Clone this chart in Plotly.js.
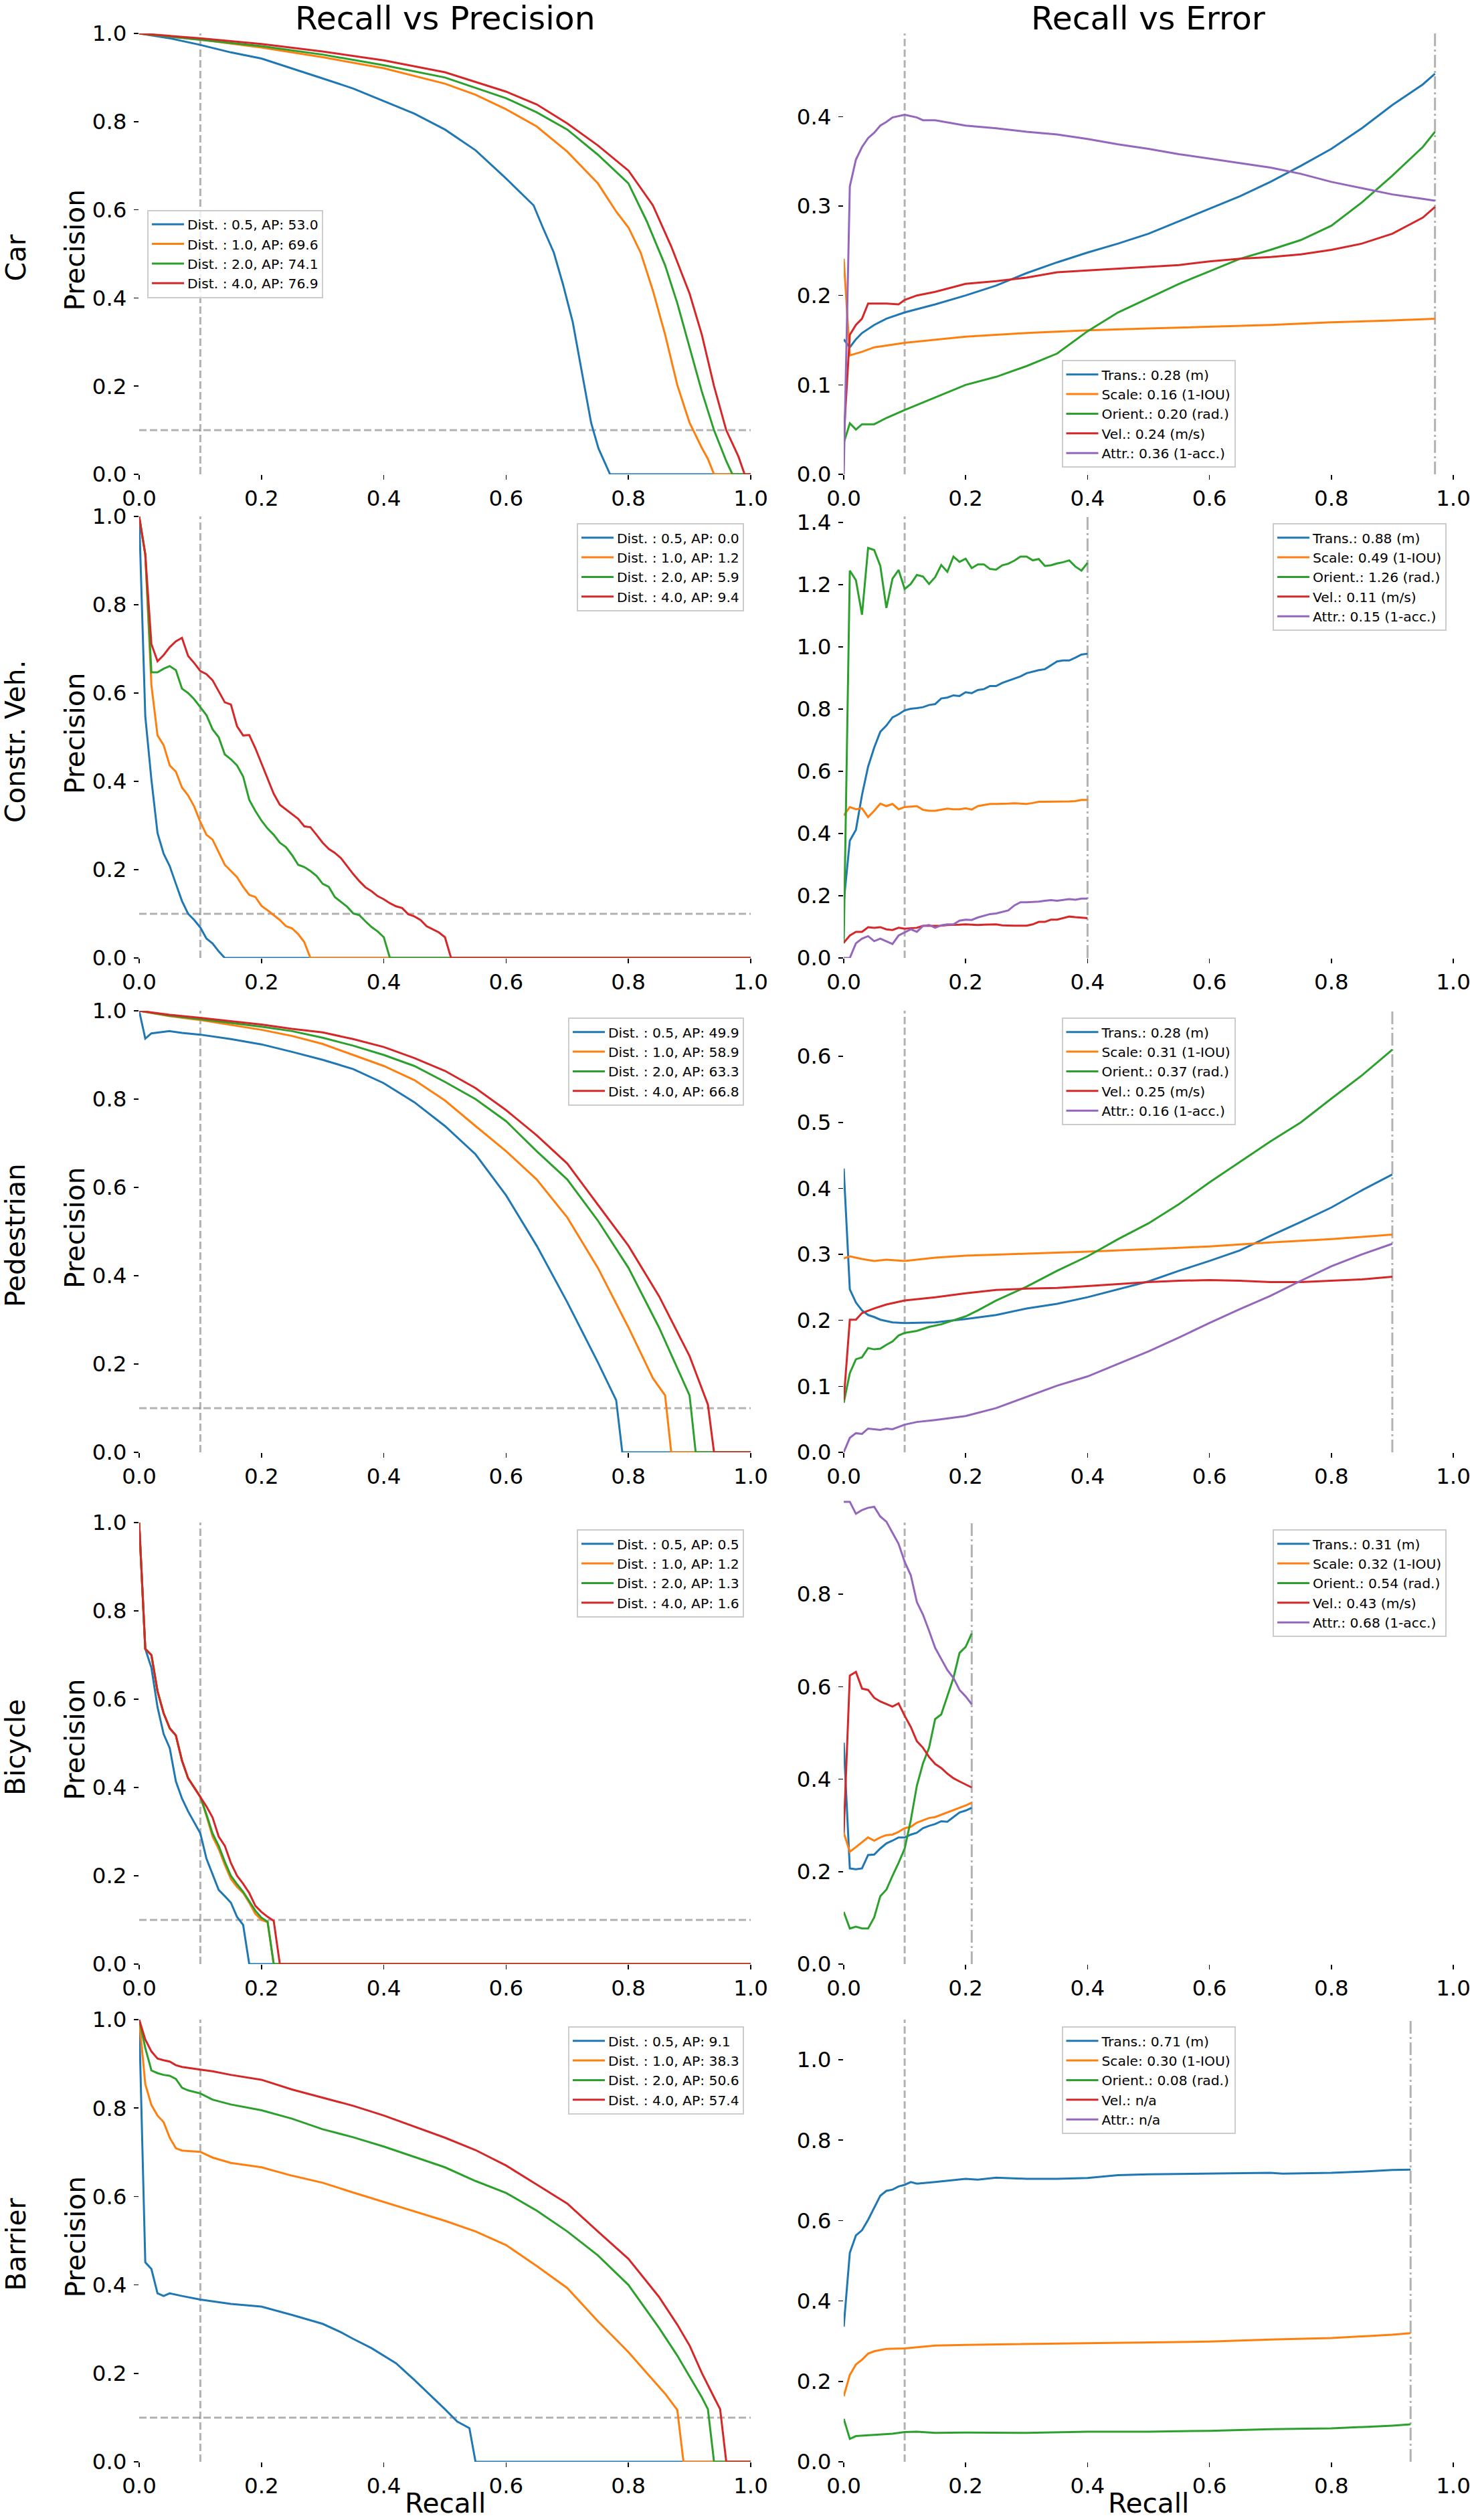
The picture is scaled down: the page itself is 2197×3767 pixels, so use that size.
<!DOCTYPE html>
<html>
<head>
<meta charset="utf-8">
<script src="https://cdn.plot.ly/plotly-3.0.1.min.js"></script>
<style>
  html, body { margin: 0; padding: 0; background: #ffffff; }
  #chart { width: 2197px; height: 3767px; }
</style>
</head>
<body>
<div id="chart"></div>
<script>
// ---------------------------------------------------------------------------
// Detection evaluation summary: precision/recall and TP-error/recall curves
// for five classes, four matching distances each.
// ---------------------------------------------------------------------------

const classNames = ['Car', 'Constr. Veh.', 'Pedestrian', 'Bicycle', 'Barrier'];
const distances = [0.5, 1.0, 2.0, 4.0];

// Average precision per class, one value per matching distance
const carAP = [53.0, 69.6, 74.1, 76.9];
const cvAP  = [0.0, 1.2, 5.9, 9.4];
const pedAP = [49.9, 58.9, 63.3, 66.8];
const bicAP = [0.5, 1.2, 1.3, 1.6];
const barAP = [9.1, 38.3, 50.6, 57.4];

// Mean TP errors per class: trans, scale, orient, vel, attr (null = n/a)
const carTP = [0.28, 0.16, 0.20, 0.24, 0.36];
const cvTP  = [0.88, 0.49, 1.26, 0.11, 0.15];
const pedTP = [0.28, 0.31, 0.37, 0.25, 0.16];
const bicTP = [0.31, 0.32, 0.54, 0.43, 0.68];
const barTP = [0.71, 0.30, 0.08, null, null];

const tpNames = ['Trans.', 'Scale', 'Orient.', 'Vel.', 'Attr.'];
const tpUnits = ['(m)', '(1-IOU)', '(rad.)', '(m/s)', '(1-acc.)'];

// ----------------------------- Car -----------------------------------------
const car_d05_r = [0,0.05,0.1,0.15,0.2,0.25,0.3,0.35,0.4,0.45,0.5,0.55,0.6,0.645,0.66,0.678,0.693,0.709,0.724,0.739,0.751,0.77,1.0];
const car_d05_p = [1,0.989,0.974,0.957,0.943,0.921,0.898,0.875,0.846,0.818,0.782,0.735,0.671,0.61,0.56,0.503,0.431,0.345,0.231,0.117,0.059,0,0];
const car_d10_r = [0,0.1,0.2,0.3,0.4,0.5,0.55,0.6,0.65,0.7,0.75,0.78,0.8,0.82,0.84,0.86,0.88,0.9,0.92,0.93,0.94,1.0];
const car_d10_p = [1,0.986,0.968,0.946,0.921,0.886,0.861,0.828,0.789,0.732,0.66,0.596,0.56,0.503,0.417,0.317,0.202,0.117,0.06,0.035,0,0];
const car_d20_r = [0,0.1,0.2,0.3,0.4,0.5,0.6,0.65,0.7,0.75,0.8,0.83,0.86,0.88,0.9,0.92,0.94,0.96,0.97,1.0];
const car_d20_p = [1,0.986,0.971,0.952,0.928,0.9,0.853,0.821,0.782,0.725,0.66,0.574,0.474,0.388,0.288,0.188,0.1,0.03,0,0];
const car_d40_r = [0,0.1,0.2,0.3,0.4,0.5,0.6,0.65,0.7,0.75,0.8,0.84,0.87,0.9,0.92,0.94,0.96,0.98,0.99,1.0];
const car_d40_p = [1,0.989,0.976,0.959,0.939,0.912,0.868,0.839,0.796,0.746,0.689,0.61,0.517,0.41,0.317,0.2,0.1,0.04,0,0];

const car_trans_r = [0,0.01,0.02,0.03,0.05,0.07,0.1,0.15,0.2,0.25,0.3,0.35,0.4,0.45,0.5,0.55,0.6,0.65,0.7,0.75,0.8,0.85,0.9,0.95,0.97];
const car_trans_e = [0.151,0.142,0.151,0.158,0.167,0.174,0.181,0.19,0.2,0.211,0.225,0.237,0.248,0.258,0.269,0.283,0.297,0.311,0.327,0.345,0.364,0.387,0.413,0.436,0.448];
const car_scale_r = [0,0.01,0.03,0.05,0.1,0.2,0.3,0.4,0.5,0.6,0.7,0.8,0.9,0.97];
const car_scale_e = [0.241,0.133,0.137,0.142,0.147,0.154,0.158,0.161,0.163,0.165,0.167,0.17,0.172,0.174];
const car_orient_r = [0,0.01,0.02,0.03,0.05,0.07,0.1,0.15,0.2,0.25,0.3,0.35,0.4,0.45,0.5,0.55,0.6,0.65,0.7,0.75,0.8,0.85,0.9,0.95,0.97];
const car_orient_e = [0.035,0.057,0.05,0.056,0.056,0.063,0.072,0.086,0.1,0.109,0.121,0.135,0.16,0.181,0.197,0.213,0.227,0.241,0.251,0.262,0.278,0.304,0.334,0.366,0.383];
const car_vel_r = [0,0.01,0.02,0.03,0.04,0.07,0.09,0.1,0.12,0.15,0.2,0.25,0.3,0.35,0.4,0.45,0.5,0.55,0.6,0.65,0.7,0.75,0.8,0.85,0.9,0.95,0.97];
const car_vel_e = [0.04,0.156,0.167,0.174,0.191,0.191,0.19,0.195,0.2,0.204,0.213,0.216,0.22,0.226,0.228,0.23,0.232,0.234,0.238,0.241,0.243,0.246,0.251,0.258,0.269,0.287,0.299];
const car_attr_r = [0,0.01,0.02,0.03,0.04,0.05,0.06,0.07,0.08,0.1,0.12,0.13,0.15,0.2,0.25,0.3,0.35,0.4,0.45,0.5,0.55,0.6,0.65,0.7,0.75,0.8,0.85,0.9,0.95,0.97];
const car_attr_e = [0,0.322,0.352,0.366,0.376,0.382,0.39,0.394,0.399,0.402,0.399,0.396,0.396,0.39,0.387,0.383,0.38,0.375,0.369,0.364,0.358,0.353,0.348,0.343,0.336,0.327,0.32,0.313,0.308,0.306];

// ----------------------------- Construction vehicle ------------------------
const cv_d05_r = [0,0.01,0.02,0.03,0.04,0.05,0.06,0.07,0.08,0.09,0.1,0.11,0.12,0.13,0.14,1.0];
const cv_d05_p = [1,0.547,0.404,0.283,0.236,0.208,0.168,0.129,0.1,0.086,0.069,0.044,0.033,0.015,0,0];
const cv_d10_r = [0,0.01,0.02,0.03,0.04,0.05,0.06,0.07,0.08,0.09,0.1,0.11,0.12,0.13,0.14,0.15,0.16,0.17,0.18,0.19,0.2,0.21,0.22,0.23,0.24,0.25,0.26,0.27,0.28,1.0];
const cv_d10_p = [1,0.914,0.618,0.504,0.482,0.436,0.422,0.386,0.368,0.343,0.308,0.279,0.268,0.24,0.211,0.197,0.183,0.161,0.143,0.138,0.118,0.108,0.097,0.086,0.072,0.067,0.054,0.036,0,0];
const cv_d20_r = [0,0.01,0.02,0.03,0.04,0.05,0.06,0.07,0.08,0.09,0.1,0.11,0.12,0.13,0.14,0.15,0.16,0.17,0.18,0.19,0.2,0.21,0.22,0.23,0.24,0.25,0.26,0.27,0.28,0.29,0.3,0.31,0.32,0.33,0.34,0.35,0.36,0.37,0.38,0.39,0.4,0.41,1.0];
const cv_d20_p = [1,0.914,0.647,0.647,0.655,0.661,0.652,0.61,0.6,0.586,0.568,0.55,0.518,0.5,0.461,0.45,0.436,0.411,0.358,0.333,0.311,0.293,0.279,0.261,0.251,0.233,0.211,0.206,0.197,0.186,0.168,0.161,0.138,0.127,0.116,0.101,0.097,0.083,0.07,0.06,0.047,0,0];
const cv_d40_r = [0,0.01,0.02,0.03,0.04,0.05,0.06,0.07,0.08,0.09,0.1,0.11,0.12,0.13,0.14,0.15,0.16,0.17,0.18,0.19,0.2,0.21,0.22,0.23,0.24,0.25,0.26,0.27,0.28,0.29,0.3,0.31,0.32,0.33,0.34,0.35,0.36,0.37,0.38,0.39,0.4,0.41,0.42,0.43,0.44,0.45,0.46,0.47,0.48,0.49,0.5,0.51,1.0];
const cv_d40_p = [1,0.914,0.711,0.672,0.686,0.704,0.717,0.725,0.684,0.668,0.65,0.643,0.629,0.604,0.579,0.574,0.525,0.504,0.505,0.475,0.44,0.404,0.372,0.347,0.336,0.325,0.315,0.298,0.296,0.279,0.261,0.247,0.238,0.226,0.208,0.19,0.174,0.16,0.151,0.14,0.133,0.124,0.117,0.113,0.099,0.094,0.086,0.072,0.065,0.058,0.047,0,0];

const cv_err_r = [0,0.01,0.02,0.03,0.04,0.05,0.06,0.07,0.08,0.09,0.1,0.11,0.12,0.13,0.14,0.15,0.16,0.17,0.18,0.19,0.2,0.21,0.22,0.23,0.24,0.25,0.26,0.27,0.28,0.29,0.3,0.31,0.32,0.33,0.34,0.35,0.36,0.37,0.38,0.39,0.4];
const cv_trans_e = [0.179,0.377,0.412,0.524,0.615,0.676,0.727,0.747,0.773,0.783,0.796,0.801,0.803,0.806,0.813,0.816,0.834,0.837,0.844,0.842,0.854,0.851,0.861,0.864,0.874,0.874,0.884,0.891,0.897,0.905,0.915,0.92,0.925,0.928,0.94,0.953,0.956,0.956,0.965,0.975,0.978];
const cv_scale_e = [0.458,0.485,0.478,0.481,0.453,0.473,0.496,0.488,0.495,0.478,0.485,0.486,0.488,0.476,0.473,0.473,0.476,0.48,0.478,0.478,0.481,0.477,0.488,0.491,0.495,0.495,0.495,0.496,0.497,0.496,0.495,0.498,0.502,0.502,0.502,0.502,0.502,0.503,0.504,0.508,0.508];
const cv_orient_e = [0.047,1.245,1.214,1.103,1.318,1.311,1.26,1.125,1.219,1.247,1.186,1.202,1.231,1.226,1.202,1.224,1.263,1.241,1.29,1.273,1.283,1.253,1.265,1.265,1.25,1.248,1.262,1.267,1.277,1.29,1.29,1.278,1.282,1.26,1.262,1.268,1.272,1.278,1.258,1.245,1.27];
const cv_vel_e = [0.049,0.072,0.084,0.084,0.099,0.097,0.099,0.092,0.09,0.097,0.094,0.095,0.097,0.103,0.103,0.103,0.104,0.106,0.106,0.107,0.108,0.107,0.106,0.107,0.108,0.108,0.105,0.104,0.104,0.104,0.104,0.108,0.116,0.116,0.123,0.123,0.128,0.133,0.131,0.13,0.128];
const cv_attr_e = [0,0,0.047,0.062,0.07,0.054,0.062,0.054,0.045,0.072,0.082,0.092,0.084,0.103,0.106,0.097,0.105,0.108,0.108,0.12,0.123,0.122,0.13,0.136,0.141,0.143,0.148,0.153,0.169,0.179,0.179,0.18,0.181,0.184,0.186,0.184,0.187,0.189,0.187,0.191,0.191];

// ----------------------------- Pedestrian ----------------------------------
const ped_d05_r = [0,0.01,0.02,0.03,0.05,0.07,0.1,0.15,0.2,0.25,0.3,0.35,0.4,0.45,0.5,0.55,0.6,0.65,0.7,0.75,0.78,0.79,1.0];
const ped_d05_p = [1,0.937,0.949,0.951,0.954,0.95,0.946,0.936,0.924,0.907,0.889,0.868,0.836,0.793,0.739,0.675,0.582,0.468,0.34,0.204,0.118,0,0];
const ped_d10_r = [0,0.05,0.1,0.15,0.2,0.25,0.3,0.35,0.4,0.45,0.5,0.55,0.6,0.65,0.7,0.75,0.8,0.84,0.86,0.87,1.0];
const ped_d10_p = [1,0.988,0.979,0.968,0.957,0.943,0.925,0.9,0.875,0.843,0.797,0.739,0.682,0.618,0.532,0.418,0.283,0.168,0.129,0,0];
const ped_d20_r = [0,0.05,0.1,0.15,0.2,0.25,0.3,0.35,0.4,0.45,0.5,0.55,0.6,0.65,0.7,0.75,0.8,0.85,0.9,0.91,1.0];
const ped_d20_p = [1,0.989,0.981,0.973,0.964,0.954,0.939,0.921,0.9,0.875,0.839,0.8,0.75,0.682,0.618,0.525,0.418,0.283,0.129,0,0];
const ped_d40_r = [0,0.05,0.1,0.15,0.2,0.25,0.3,0.35,0.4,0.45,0.5,0.55,0.6,0.65,0.7,0.75,0.8,0.85,0.9,0.93,0.94,1.0];
const ped_d40_p = [1,0.991,0.984,0.977,0.969,0.959,0.951,0.936,0.918,0.893,0.864,0.825,0.775,0.718,0.654,0.561,0.468,0.354,0.218,0.108,0,0];

const ped_trans_r = [0,0.01,0.02,0.03,0.04,0.05,0.06,0.07,0.08,0.1,0.15,0.2,0.25,0.3,0.35,0.4,0.45,0.5,0.55,0.6,0.65,0.7,0.75,0.8,0.85,0.9];
const ped_trans_e = [0.43,0.247,0.227,0.215,0.208,0.205,0.201,0.199,0.197,0.196,0.197,0.202,0.208,0.218,0.225,0.235,0.247,0.259,0.275,0.29,0.306,0.328,0.349,0.371,0.397,0.421];
const ped_scale_r = [0,0.01,0.03,0.05,0.07,0.1,0.15,0.2,0.3,0.4,0.5,0.6,0.7,0.8,0.9];
const ped_scale_e = [0.294,0.297,0.293,0.29,0.292,0.29,0.295,0.298,0.301,0.304,0.308,0.312,0.318,0.323,0.33];
const ped_orient_r = [0,0.01,0.02,0.03,0.04,0.05,0.06,0.07,0.08,0.09,0.1,0.12,0.14,0.16,0.18,0.2,0.22,0.25,0.3,0.35,0.4,0.45,0.5,0.55,0.6,0.65,0.7,0.75,0.8,0.85,0.9];
const ped_orient_e = [0.075,0.12,0.141,0.144,0.158,0.156,0.157,0.163,0.168,0.177,0.181,0.184,0.19,0.194,0.2,0.206,0.215,0.23,0.251,0.275,0.297,0.323,0.347,0.376,0.409,0.44,0.471,0.5,0.536,0.571,0.61];
const ped_vel_r = [0,0.01,0.02,0.03,0.05,0.07,0.1,0.15,0.2,0.25,0.3,0.35,0.4,0.45,0.5,0.55,0.6,0.65,0.7,0.75,0.8,0.85,0.9];
const ped_vel_e = [0.079,0.201,0.201,0.211,0.218,0.224,0.23,0.235,0.241,0.246,0.248,0.249,0.252,0.255,0.258,0.26,0.261,0.26,0.258,0.258,0.26,0.262,0.266];
const ped_attr_r = [0,0.01,0.02,0.03,0.04,0.05,0.06,0.07,0.08,0.1,0.12,0.15,0.2,0.25,0.3,0.35,0.4,0.45,0.5,0.55,0.6,0.65,0.7,0.75,0.8,0.85,0.9];
const ped_attr_e = [0,0.022,0.029,0.028,0.036,0.035,0.034,0.036,0.035,0.042,0.046,0.049,0.055,0.067,0.084,0.101,0.115,0.134,0.153,0.174,0.196,0.217,0.237,0.26,0.282,0.3,0.316];

// ----------------------------- Bicycle -------------------------------------
const bic_d05_r = [0,0.01,0.02,0.03,0.04,0.05,0.06,0.07,0.08,0.09,0.1,0.11,0.12,0.13,0.14,0.15,0.16,0.17,0.18,1.0];
const bic_d05_p = [1,0.714,0.671,0.582,0.521,0.489,0.414,0.375,0.346,0.321,0.296,0.239,0.204,0.168,0.154,0.139,0.107,0.089,0,0];
const bic_d10_r = [0,0.01,0.02,0.03,0.04,0.05,0.06,0.07,0.08,0.09,0.1,0.11,0.12,0.13,0.14,0.15,0.16,0.17,0.18,0.19,0.2,0.21,0.22,1.0];
const bic_d10_p = [1,0.714,0.7,0.618,0.568,0.534,0.518,0.461,0.421,0.4,0.379,0.336,0.289,0.261,0.225,0.193,0.175,0.161,0.139,0.114,0.1,0.095,0,0];
const bic_d20_r = [0,0.01,0.02,0.03,0.04,0.05,0.06,0.07,0.08,0.09,0.1,0.11,0.12,0.13,0.14,0.15,0.16,0.17,0.18,0.19,0.2,0.21,0.22,1.0];
const bic_d20_p = [1,0.714,0.7,0.618,0.568,0.534,0.518,0.461,0.421,0.4,0.379,0.339,0.296,0.268,0.232,0.2,0.181,0.164,0.143,0.121,0.105,0.096,0,0];
const bic_d40_r = [0,0.01,0.02,0.03,0.04,0.05,0.06,0.07,0.08,0.09,0.1,0.11,0.12,0.13,0.14,0.15,0.16,0.17,0.18,0.19,0.2,0.21,0.22,0.23,1.0];
const bic_d40_p = [1,0.714,0.7,0.618,0.568,0.534,0.518,0.461,0.421,0.4,0.379,0.357,0.332,0.289,0.268,0.229,0.2,0.182,0.161,0.132,0.118,0.107,0.098,0,0];

const bic_err_r = [0,0.01,0.02,0.03,0.04,0.05,0.06,0.07,0.08,0.09,0.1,0.11,0.12,0.13,0.14,0.15,0.16,0.17,0.18,0.19,0.2,0.21];
const bic_trans_e = [0.479,0.207,0.205,0.207,0.236,0.237,0.25,0.261,0.267,0.274,0.274,0.28,0.284,0.294,0.299,0.303,0.309,0.308,0.318,0.328,0.332,0.338];
const bic_scale_e = [0.284,0.243,0.253,0.263,0.274,0.267,0.274,0.279,0.28,0.286,0.294,0.297,0.306,0.311,0.316,0.318,0.323,0.328,0.332,0.338,0.343,0.349];
const bic_orient_e = [0.113,0.077,0.081,0.077,0.077,0.101,0.147,0.161,0.191,0.219,0.25,0.311,0.386,0.434,0.468,0.53,0.54,0.578,0.619,0.673,0.686,0.715];
const bic_vel_e = [0.284,0.624,0.632,0.596,0.593,0.576,0.568,0.562,0.557,0.564,0.537,0.513,0.482,0.468,0.448,0.433,0.424,0.412,0.402,0.395,0.389,0.382];
const bic_attr_e = [1.0,1.0,0.974,0.982,0.987,0.989,0.968,0.957,0.933,0.909,0.87,0.841,0.783,0.756,0.721,0.684,0.66,0.636,0.619,0.593,0.579,0.562];

// ----------------------------- Barrier -------------------------------------
const bar_d05_r = [0,0.01,0.02,0.03,0.04,0.05,0.07,0.1,0.15,0.2,0.25,0.3,0.33,0.35,0.38,0.4,0.42,0.45,0.48,0.5,0.52,0.54,0.55,1.0];
const bar_d05_p = [1,0.451,0.436,0.381,0.375,0.381,0.375,0.367,0.357,0.351,0.332,0.312,0.293,0.278,0.257,0.24,0.223,0.185,0.146,0.119,0.091,0.076,0,0];
const bar_d10_r = [0,0.01,0.02,0.03,0.04,0.05,0.06,0.07,0.1,0.12,0.15,0.2,0.25,0.3,0.35,0.4,0.45,0.5,0.55,0.6,0.65,0.7,0.75,0.8,0.83,0.86,0.88,0.89,1.0];
const bar_d10_p = [1,0.854,0.807,0.783,0.768,0.733,0.709,0.704,0.701,0.688,0.676,0.666,0.647,0.631,0.609,0.588,0.567,0.545,0.521,0.49,0.443,0.393,0.318,0.248,0.201,0.154,0.117,0,0];
const bar_d20_r = [0,0.01,0.02,0.03,0.04,0.05,0.06,0.07,0.08,0.1,0.12,0.15,0.2,0.25,0.3,0.35,0.4,0.45,0.5,0.55,0.6,0.65,0.7,0.75,0.8,0.85,0.88,0.9,0.92,0.93,0.94,1.0];
const bar_d20_p = [1,0.936,0.885,0.879,0.875,0.873,0.866,0.846,0.84,0.833,0.819,0.808,0.795,0.776,0.752,0.734,0.713,0.69,0.666,0.635,0.608,0.568,0.521,0.467,0.4,0.303,0.24,0.193,0.146,0.119,0,0];
const bar_d40_r = [0,0.01,0.02,0.03,0.04,0.05,0.06,0.07,0.1,0.12,0.15,0.2,0.25,0.3,0.35,0.4,0.45,0.5,0.55,0.6,0.65,0.7,0.75,0.8,0.85,0.88,0.9,0.92,0.94,0.95,0.96,1.0];
const bar_d40_p = [1,0.955,0.928,0.912,0.908,0.905,0.897,0.893,0.887,0.883,0.875,0.864,0.842,0.823,0.805,0.783,0.758,0.733,0.705,0.67,0.627,0.584,0.521,0.459,0.373,0.31,0.263,0.201,0.146,0.119,0,0];

const bar_trans_r = [0,0.01,0.02,0.03,0.04,0.05,0.06,0.07,0.08,0.09,0.1,0.11,0.12,0.15,0.2,0.22,0.25,0.3,0.35,0.4,0.45,0.5,0.6,0.7,0.72,0.8,0.85,0.9,0.93];
const bar_trans_e = [0.336,0.52,0.563,0.576,0.602,0.632,0.662,0.674,0.677,0.685,0.689,0.696,0.692,0.696,0.704,0.702,0.707,0.704,0.704,0.706,0.713,0.715,0.717,0.719,0.717,0.719,0.722,0.726,0.727];
const bar_scale_r = [0,0.01,0.02,0.03,0.04,0.05,0.06,0.07,0.1,0.15,0.2,0.3,0.4,0.5,0.6,0.7,0.8,0.9,0.93];
const bar_scale_e = [0.163,0.216,0.242,0.254,0.269,0.275,0.278,0.281,0.282,0.289,0.291,0.293,0.295,0.296,0.299,0.304,0.308,0.316,0.32];
const bar_orient_r = [0,0.01,0.02,0.04,0.06,0.08,0.1,0.12,0.15,0.2,0.3,0.4,0.5,0.6,0.7,0.8,0.9,0.93];
const bar_orient_e = [0.107,0.057,0.064,0.066,0.068,0.07,0.074,0.075,0.072,0.073,0.072,0.075,0.075,0.077,0.081,0.083,0.09,0.093];
const bar_vel_r = [];
const bar_vel_e = [];
const bar_attr_r = [];
const bar_attr_e = [];

// Upper limit and tick step of each error axis
const errorAxisTop = [0.493, 1.419, 0.669, 0.955, 1.1];
const errorAxisStep = [0.1, 0.2, 0.1, 0.2, 0.2];

// Operating thresholds shown as reference lines
const minRecall = 0.1;
const minPrecision = 0.1;

// ---------------------------------------------------------------------------
// Assemble per-class tables for the plotting loop
// ---------------------------------------------------------------------------
const rows = [
  { name: classNames[0], ap: carAP, tp: carTP,
    pr: [[car_d05_r, car_d05_p], [car_d10_r, car_d10_p], [car_d20_r, car_d20_p], [car_d40_r, car_d40_p]],
    err: [[car_trans_r, car_trans_e], [car_scale_r, car_scale_e], [car_orient_r, car_orient_e], [car_vel_r, car_vel_e], [car_attr_r, car_attr_e]] },
  { name: classNames[1], ap: cvAP, tp: cvTP,
    pr: [[cv_d05_r, cv_d05_p], [cv_d10_r, cv_d10_p], [cv_d20_r, cv_d20_p], [cv_d40_r, cv_d40_p]],
    err: [[cv_err_r, cv_trans_e], [cv_err_r, cv_scale_e], [cv_err_r, cv_orient_e], [cv_err_r, cv_vel_e], [cv_err_r, cv_attr_e]] },
  { name: classNames[2], ap: pedAP, tp: pedTP,
    pr: [[ped_d05_r, ped_d05_p], [ped_d10_r, ped_d10_p], [ped_d20_r, ped_d20_p], [ped_d40_r, ped_d40_p]],
    err: [[ped_trans_r, ped_trans_e], [ped_scale_r, ped_scale_e], [ped_orient_r, ped_orient_e], [ped_vel_r, ped_vel_e], [ped_attr_r, ped_attr_e]] },
  { name: classNames[3], ap: bicAP, tp: bicTP,
    pr: [[bic_d05_r, bic_d05_p], [bic_d10_r, bic_d10_p], [bic_d20_r, bic_d20_p], [bic_d40_r, bic_d40_p]],
    err: [[bic_err_r, bic_trans_e], [bic_err_r, bic_scale_e], [bic_err_r, bic_orient_e], [bic_err_r, bic_vel_e], [bic_err_r, bic_attr_e]] },
  { name: classNames[4], ap: barAP, tp: barTP,
    pr: [[bar_d05_r, bar_d05_p], [bar_d10_r, bar_d10_p], [bar_d20_r, bar_d20_p], [bar_d40_r, bar_d40_p]],
    err: [[bar_trans_r, bar_trans_e], [bar_scale_r, bar_scale_e], [bar_orient_r, bar_orient_e], [bar_vel_r, bar_vel_e], [bar_attr_r, bar_attr_e]] }
];

// ---------------------------------------------------------------------------
// Page geometry (pixels)
// ---------------------------------------------------------------------------
const W = 2197, H = 3767;
const leftCol = [208, 1122];
const rightCol = [1261, 2172];
const rowBox = [[50, 709], [772, 1432], [1511, 2171], [2276, 2936], [3019, 3680]]; // [top, bottom]
const legendInset = 10;

const FONT = 'DejaVu Sans, Verdana, sans-serif';
const COLORS = ['#1f77b4', '#ff7f0e', '#2ca02c', '#d62728', '#9467bd'];
const GUIDE = 'rgba(0,0,0,0.3)';

const px = v => v / W;
const py = v => 1 - v / H;
const sfx = n => (n === 1 ? '' : String(n));

function axisStyle(extra) {
  return Object.assign({
    showgrid: false, zeroline: false, showline: false,
    ticks: 'outside', ticklen: 7, tickwidth: 1.6, tickcolor: '#000000',
    tickfont: { family: FONT, size: 32.5, color: '#000000' },
    ticklabelstandoff: 4, ticklabeloverflow: 'allow',
    tickformat: '.1f', tick0: 0, fixedrange: true, automargin: false
  }, extra);
}

function legendStyle(extra) {
  return Object.assign({
    bgcolor: 'rgba(255,255,255,0.8)', bordercolor: '#cccccc', borderwidth: 2,
    font: { family: FONT, size: 20.3, color: '#000000' },
    tracegroupgap: 2, traceorder: 'normal', itemwidth: 48,
    xref: 'paper', yref: 'paper'
  }, extra);
}

const traces = [];
const layout = {
  width: W, height: H,
  margin: { l: 0, r: 0, t: 0, b: 0, pad: 0 },
  paper_bgcolor: '#ffffff', plot_bgcolor: 'rgba(0,0,0,0)',
  font: { family: FONT, color: '#000000' },
  showlegend: true,
  shapes: [], annotations: []
};

function guideV(xr, yr, x, dash) {
  layout.shapes.push({ type: 'line', layer: 'below', xref: xr, yref: yr + ' domain',
    x0: x, x1: x, y0: 0, y1: 1, line: { color: GUIDE, width: 3, dash: dash } });
}
function guideH(xr, yr, y, dash) {
  layout.shapes.push({ type: 'line', layer: 'below', xref: xr + ' domain', yref: yr,
    x0: 0, x1: 1, y0: y, y1: y, line: { color: GUIDE, width: 3, dash: dash } });
}

const DASHED = '11px,5px';
const DASHDOT = '19px,5px,3px,5px';

rows.forEach((row, i) => {
  const [top, bottom] = rowBox[i];
  const yDom = [py(bottom), py(top)];
  const li = 2 * i + 1, ri = 2 * i + 2;
  const lx = 'x' + sfx(li), ly = 'y' + sfx(li);
  const rx = 'x' + sfx(ri), ry = 'y' + sfx(ri);
  const lLeg = 'legend' + sfx(li), rLeg = 'legend' + sfx(ri);

  // ---- precision / recall panel
  layout['xaxis' + sfx(li)] = axisStyle({ domain: [px(leftCol[0]), px(leftCol[1])], range: [0, 1], dtick: 0.2, anchor: ly, ticklabelstandoff: 0 });
  layout['yaxis' + sfx(li)] = axisStyle({ domain: yDom, range: [0, 1], dtick: 0.2, anchor: lx });
  guideV(lx, ly, minRecall, DASHED);
  guideH(lx, ly, minPrecision, DASHED);

  row.pr.forEach(([r, p], k) => {
    traces.push({
      type: 'scatter', mode: 'lines', x: r, y: p, xaxis: lx, yaxis: ly,
      line: { color: COLORS[k], width: 3 },
      name: 'Dist. : ' + distances[k].toFixed(1) + ', AP: ' + row.ap[k].toFixed(1),
      legend: lLeg, legendgroup: 'pr' + i + '_' + k, hoverinfo: 'skip'
    });
  });

  // ---- TP error / recall panel
  layout['xaxis' + sfx(ri)] = axisStyle({ domain: [px(rightCol[0]), px(rightCol[1])], range: [0, 1], dtick: 0.2, anchor: ry, ticklabelstandoff: 0 });
  layout['yaxis' + sfx(ri)] = axisStyle({ domain: yDom, range: [0, errorAxisTop[i]], dtick: errorAxisStep[i], anchor: rx });
  guideV(rx, ry, minRecall, DASHED);
  const transRecall = row.err[0][0];
  guideV(rx, ry, transRecall[transRecall.length - 1], DASHDOT);

  row.err.forEach(([r, e], k) => {
    const v = row.tp[k];
    const label = tpNames[k] + ': ' + (v === null ? 'n/a' : v.toFixed(2) + ' ' + tpUnits[k]);
    const t = {
      type: 'scatter', mode: 'lines',
      x: r.length ? r : [null], y: e.length ? e : [null],
      xaxis: rx, yaxis: ry,
      line: { color: COLORS[k], width: 3 },
      name: label, legend: rLeg, legendgroup: 'tp' + i + '_' + k, hoverinfo: 'skip'
    };
    // values above the axis ceiling stay visible (unclipped) on a taller overlay frame
    const peak = Math.max(...(e.length ? e : [0]));
    if (peak > errorAxisTop[i]) {
      const extra = 45;
      const n = 11 + i;
      layout['xaxis' + n] = { domain: [px(rightCol[0]), px(rightCol[1])], range: [0, 1], visible: false, fixedrange: true, anchor: 'y' + n };
      layout['yaxis' + n] = { domain: [py(bottom), py(top - extra)], range: [0, errorAxisTop[i] * (bottom - top + extra) / (bottom - top)], visible: false, fixedrange: true, anchor: 'x' + n };
      t.xaxis = 'x' + n; t.yaxis = 'y' + n;
    }
    traces.push(t);
  });

  // ---- legends
  const midRight = (rightCol[0] + rightCol[1]) / 2;
  if (i === 0) {
    layout[lLeg] = legendStyle({ x: px(leftCol[0] + 12), xanchor: 'left', y: py((top + bottom) / 2), yanchor: 'middle' });
    layout[rLeg] = legendStyle({ x: px(midRight), xanchor: 'center', y: py(bottom - legendInset), yanchor: 'bottom' });
  } else {
    layout[lLeg] = legendStyle({ x: px(leftCol[1] - legendInset), xanchor: 'right', y: py(top + legendInset), yanchor: 'top' });
    const centred = (i === 2 || i === 4);
    layout[rLeg] = legendStyle(centred
      ? { x: px(midRight), xanchor: 'center', y: py(top + legendInset), yanchor: 'top' }
      : { x: px(rightCol[1] - legendInset), xanchor: 'right', y: py(top + legendInset), yanchor: 'top' });
  }

  // ---- row labels (class name + Precision), rotated
  const mid = (top + bottom) / 2;
  layout.annotations.push({ text: row.name, xref: 'paper', yref: 'paper', x: px(23), y: py(mid + 6),
    xanchor: 'center', yanchor: 'middle', textangle: -90, showarrow: false,
    font: { family: FONT, size: 40.7, color: '#000000' } });
  layout.annotations.push({ text: 'Precision', xref: 'paper', yref: 'paper', x: px(112), y: py(mid - 6),
    xanchor: 'center', yanchor: 'middle', textangle: -90, showarrow: false,
    font: { family: FONT, size: 40.7, color: '#000000' } });
});

// Column titles
layout.annotations.push({ text: 'Recall vs Precision', xref: 'paper', yref: 'paper',
  x: px((leftCol[0] + leftCol[1]) / 2), y: py(27), xanchor: 'center', yanchor: 'middle', showarrow: false,
  font: { family: FONT, size: 48.8, color: '#000000' } });
layout.annotations.push({ text: 'Recall vs Error', xref: 'paper', yref: 'paper',
  x: px((rightCol[0] + rightCol[1]) / 2), y: py(27), xanchor: 'center', yanchor: 'middle', showarrow: false,
  font: { family: FONT, size: 48.8, color: '#000000' } });

// Shared x label under the last row, sitting on the bottom edge of the page
[leftCol, rightCol].forEach(col => {
  layout.annotations.push({ text: 'Recall', xref: 'paper', yref: 'paper',
    x: px((col[0] + col[1]) / 2), y: 0, xanchor: 'center', yanchor: 'bottom', showarrow: false,
    borderpad: 0, font: { family: FONT, size: 40.7, color: '#000000' } });
});

Plotly.newPlot('chart', traces, layout, { staticPlot: true, displayModeBar: false });
</script>
</body>
</html>
